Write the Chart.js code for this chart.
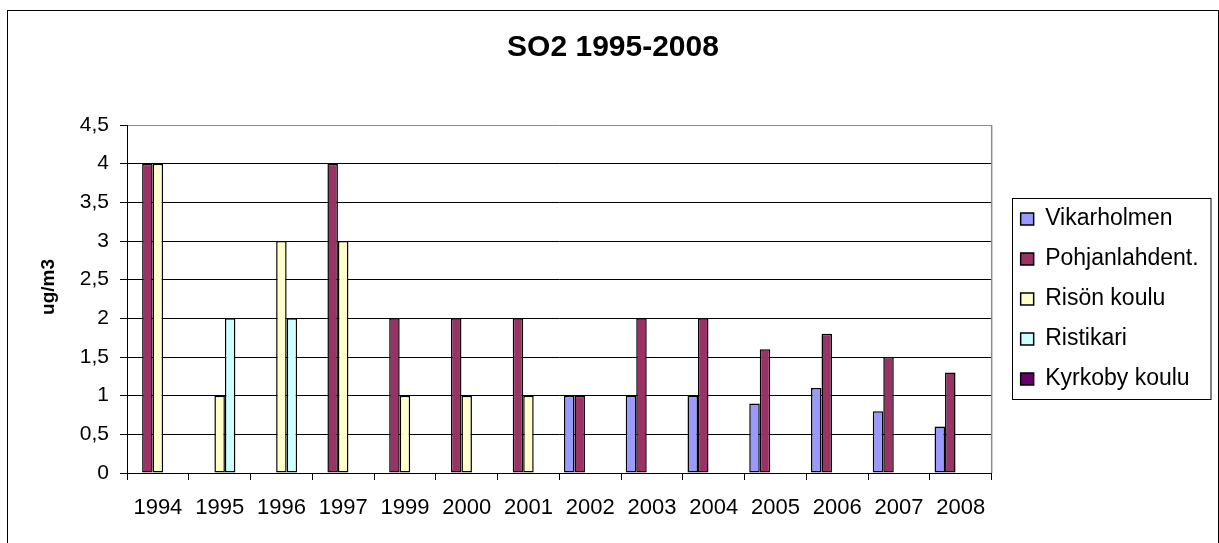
<!DOCTYPE html>
<html>
<head>
<meta charset="utf-8">
<title>SO2 1995-2008</title>
<script src="https://cdn.jsdelivr.net/npm/chart.js@4/dist/chart.umd.min.js"></script>
<style>
  html, body { margin: 0; padding: 0; background: #fff; }
  #wrap { width: 1219px; height: 543px; }
</style>
</head>
<body>
<div id="wrap"><canvas id="so2" width="1219" height="543"></canvas></div>
<script>
// Annual SO2 means (ug/m3) per measuring station
const years = ['1994', '1995', '1996', '1997', '1999', '2000', '2001', '2002', '2003', '2004', '2005', '2006', '2007', '2008'];
const vikarholmen   = [null, null, null, null, null, null, null, 1, 1, 1, 0.9, 1.1, 0.8, 0.6];
const pohjanlahdent = [4, null, null, 4, 2, 2, 2, 1, 2, 2, 1.6, 1.8, 1.5, 1.3];
const risonKoulu    = [4, 1, 3, 3, 1, 1, 1, null, null, null, null, null, null, null];
const ristikari     = [null, 2, 2, null, null, null, null, null, null, null, null, null, null, null];
const kyrkobyKoulu  = [null, null, null, null, null, null, null, null, null, null, null, null, null, null];
const yTickLabels   = ['0', '0,5', '1', '1,5', '2', '2,5', '3', '3,5', '4', '4,5'];
const chartTitle    = 'SO2 1995-2008';
const yAxisTitle    = 'ug/m3';

const FONT = 'Liberation Sans, Arial, sans-serif';

function series(label, data, color) {
  return {
    label, data,
    backgroundColor: color,
    borderColor: '#000',
    borderWidth: 1.5,
    borderSkipped: false,
    categoryPercentage: 0.85,
    barPercentage: 1.0
  };
}

// Outer frame, plot-area right edge, vertical axis caption and the box around the legend
const decorations = {
  id: 'decorations',
  beforeDraw(chart) {
    const ctx = chart.ctx;
    ctx.save();
    ctx.fillStyle = '#fff';
    ctx.fillRect(0, 0, chart.width, chart.height);
    ctx.strokeStyle = '#000';
    ctx.lineWidth = 1;
    ctx.strokeRect(7.5, 10.5, 1211, 545);
    ctx.restore();
  },
  beforeDatasetsDraw(chart) {
    const { ctx, chartArea: a } = chart;
    ctx.save();
    ctx.strokeStyle = '#8c8c8c';
    ctx.lineWidth = 1.5;
    ctx.beginPath();
    ctx.moveTo(a.right, a.top);
    ctx.lineTo(a.right, a.bottom);
    ctx.stroke();
    ctx.restore();
  },
  afterDraw(chart) {
    const ctx = chart.ctx;
    // vertical axis caption
    ctx.save();
    ctx.translate(48.5, 287);
    ctx.rotate(-Math.PI / 2);
    ctx.font = 'bold 19px ' + FONT;
    ctx.fillStyle = '#000';
    ctx.textAlign = 'center';
    ctx.textBaseline = 'middle';
    ctx.fillText(yAxisTitle, 0, 0);
    ctx.restore();

    const hb = chart.legend && chart.legend.legendHitBoxes;
    if (!hb || !hb.length) return;
    const first = hb[0], last = hb[hb.length - 1];
    const x0 = Math.round(first.left - 9) + 0.5;
    const y0 = Math.round(first.top - 9.5) + 0.5;
    const x1 = x0 + 198.5;
    const y1 = Math.round(last.top + last.height + 8) + 0.5;
    ctx.save();
    ctx.strokeStyle = '#000';
    ctx.lineWidth = 1;
    ctx.strokeRect(x0, y0, x1 - x0, y1 - y0);
    ctx.restore();
  }
};

new Chart(document.getElementById('so2'), {
  type: 'bar',
  data: {
    labels: years,
    datasets: [
      series('Vikarholmen', vikarholmen, '#9999FF'),
      series('Pohjanlahdent.', pohjanlahdent, '#993366'),
      series('Risön koulu', risonKoulu, '#FFFFCC'),
      series('Ristikari', ristikari, '#CCFFFF'),
      series('Kyrkoby koulu', kyrkobyKoulu, '#660066')
    ]
  },
  options: {
    responsive: false,
    devicePixelRatio: 1,
    animation: false,
    layout: { padding: { left: 27, right: 20, top: 0, bottom: 0 } },
    plugins: {
      tooltip: { enabled: false },
      title: {
        display: true,
        text: chartTitle,
        color: '#000',
        font: { family: FONT, size: 30, weight: 'bold' },
        padding: { top: 30, bottom: 59 }
      },
      legend: {
        display: true,
        position: 'right',
        align: 'center',
        fullSize: false,
        labels: {
          color: '#000',
          font: { family: FONT, size: 23 },
          boxWidth: 13,
          boxHeight: 12,
          padding: 17
        }
      }
    },
    scales: {
      x: {
        grid: { display: true, drawOnChartArea: false, drawTicks: true, tickLength: 7, offset: true, color: '#000' },
        border: { display: true, color: '#000', width: 1 },
        ticks: { color: '#000', font: { family: FONT, size: 22 }, padding: 15, maxRotation: 0, autoSkip: false },
        afterFit(s) { s.height = 70; }
      },
      y: {
        min: 0,
        max: 4.5,
        ticks: {
          stepSize: 0.5,
          color: '#000',
          font: { family: FONT, size: 21 },
          padding: 11,
          callback: (v, i) => yTickLabels[i]
        },
        grid: {
          color: ctx => (ctx.tick && ctx.tick.value === 4.5 ? '#8c8c8c' : '#000'),
          tickColor: '#000',
          tickLength: 7,
          lineWidth: 1
        },
        border: { display: true, color: '#000', width: 1 },
        afterFit(s) { s.width = 100; }
      },
      gap: {
        position: 'right',
        display: true,
        grid: { display: false, drawTicks: false },
        ticks: { display: false },
        border: { display: false },
        afterFit(s) { s.width = 12; }
      }
    }
  },
  plugins: [decorations]
});
</script>
</body>
</html>
